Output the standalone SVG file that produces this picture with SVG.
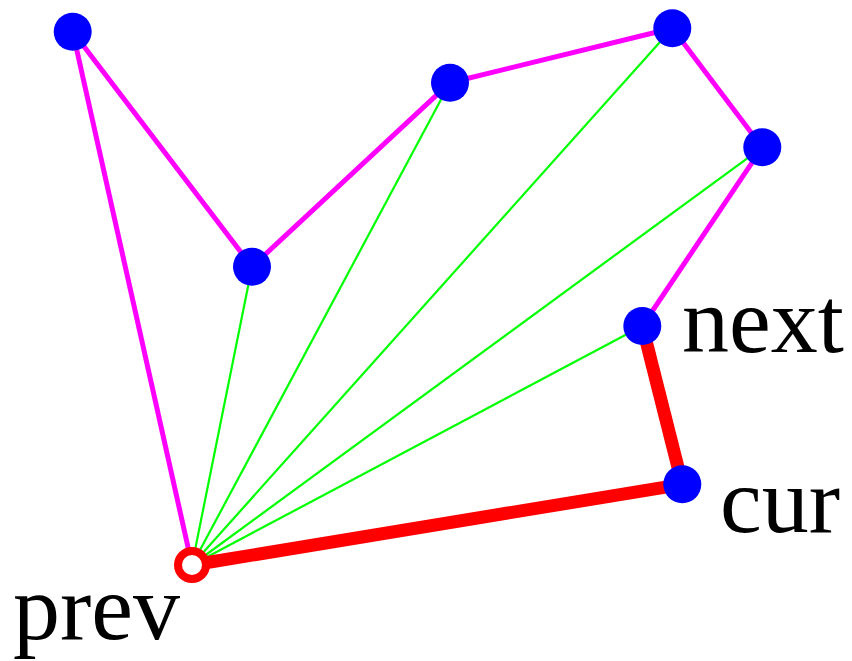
<svg xmlns="http://www.w3.org/2000/svg" width="852" height="661" viewBox="0 0 852 661">
<style>
.m{stroke:#ff00ff;stroke-width:5;fill:none}
.g{stroke:#00ff00;stroke-width:2.2;fill:none}
.r{stroke:#ff0000;stroke-width:13;fill:none}
.n{fill:#0000ff}
.t{font-family:"Liberation Serif",serif;font-size:94px;fill:#000}
</style>
<rect width="852" height="661" fill="#fff"/>
<g id="connectors">
<line class="m" x1="192" y1="565" x2="72.7" y2="31.7"/>
<line class="m" x1="72.7" y1="31.7" x2="252" y2="266.7"/>
<line class="m" x1="252" y1="266.7" x2="450" y2="82.7"/>
<line class="m" x1="450" y1="82.7" x2="672.3" y2="28.3"/>
<line class="m" x1="672.3" y1="28.3" x2="762.3" y2="147.3"/>
<line class="m" x1="762.3" y1="147.3" x2="642.3" y2="326"/>
<line class="g" x1="192" y1="565" x2="252" y2="266.7"/>
<line class="g" x1="192" y1="565" x2="450" y2="82.7"/>
<line class="g" x1="192" y1="565" x2="672.3" y2="28.3"/>
<line class="g" x1="192" y1="565" x2="762.3" y2="147.3"/>
<line class="g" x1="192" y1="565" x2="642.3" y2="326"/>
<line class="r" x1="642.3" y1="326" x2="682.3" y2="484.3"/>
<line class="r" x1="682.3" y1="484.3" x2="192" y2="565"/>
</g>
<g id="n1"><circle class="n" cx="72.7" cy="31.7" r="19"/></g>
<g id="n2"><circle class="n" cx="252" cy="266.7" r="19"/></g>
<g id="n3"><circle class="n" cx="450" cy="82.7" r="19"/></g>
<g id="n4"><circle class="n" cx="672.3" cy="28.3" r="19"/></g>
<g id="n5"><circle class="n" cx="762.3" cy="147.3" r="19"/></g>
<g id="next"><circle class="n" cx="642.3" cy="326" r="19"/><text class="t" x="682" y="352">next</text></g>
<g id="cur"><circle class="n" cx="682.3" cy="484.3" r="19"/><text class="t" x="720" y="532">cur</text></g>
<g id="prev"><circle cx="192" cy="565" r="14" fill="#fff" stroke="#ff0000" stroke-width="8"/><text class="t" x="13" y="639">prev</text></g>
</svg>
